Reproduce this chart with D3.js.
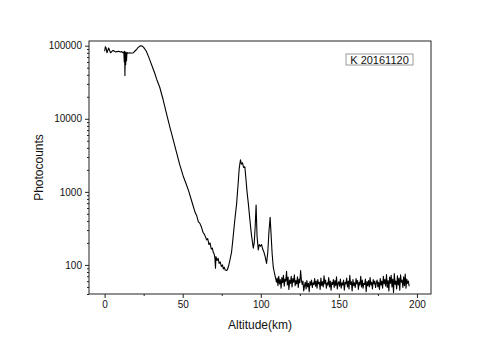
<!DOCTYPE html>
<html lang="en">
<head>
    <meta charset="UTF-8">
    <script src="https://d3js.org/d3.v7.min.js" charset="utf-8"></script>
    <title>K 20161120</title>
    <style>
        body { margin: 0; background: #fff; }
        svg { display: block; font-family: "Liberation Sans", Arial, sans-serif; }
    </style>
</head>
<body>
    <div class="chart"></div>
    <script>
        const svgWidth = 500;
        const svgHeight = 353;

        // lower atmosphere + K layer profile (altitude km, photocounts)
        const profileAlt = [
            0, 0.5, 1.0, 1.5, 2.0, 2.6, 3.2, 3.8, 4.5, 5.3, 6.0, 7.0, 8.0, 9.0, 10.0, 11.0, 11.8,
            12.3, 12.6, 12.8, 13.0, 13.2, 13.5, 13.7, 14.0, 14.3, 15.0, 16.0, 17.0, 18.3, 19.3, 20.3,
            21.5, 23.0, 24.0, 25.0, 26.7, 28.0, 28.9, 30.5, 32.1, 33.5, 35.3, 37.4, 39.5, 41.7, 44,
            46, 48, 50.3, 52.4, 54, 55.5, 56.7, 58, 59, 60, 61, 62, 63, 64, 65.3, 66, 66.8, 67.5,
            68.3, 69, 69.5, 70.2, 70.6, 71, 71.3, 72, 72.7, 73.3, 74, 74.8, 75.5, 76, 76.6, 77.2,
            78, 78.6, 79.3, 80.2, 81.3, 82.3, 83.3, 84.5, 85.5, 86.2, 87, 87.6, 88.3, 89, 89.8,
            90.5, 91.2, 92, 93, 94, 95.2, 95.8, 96.4, 97, 97.6, 98.4, 99, 99.8, 100.5, 101.2, 102,
            102.8, 103.7, 104.5, 105.2, 106, 106.6, 107.3, 108, 108.6, 109.2, 109.8
        ];
        const profileCounts = [
            84000, 97000, 92000, 80000, 86000, 93000, 86000, 80000, 83000, 86000, 85000, 82000, 83000, 84000, 82000, 83000, 80000,
            82000, 60000, 84000, 39000, 82000, 55000, 80000, 62000, 81000, 79000, 80000, 79000, 80000, 84000, 88000,
            95000, 100000, 99000, 95000, 84000, 72000, 64000, 52000, 42000, 34000, 27000, 18500, 12000, 7800, 5100,
            3500, 2400, 1650, 1250, 1000, 780, 640, 520, 470, 390, 370, 330, 280, 260, 220, 230, 190, 200,
            165, 170, 150, 140, 125, 90, 130, 115, 123, 105, 110, 95, 100, 88, 93, 85,
            84, 86, 95, 115, 150, 242, 400, 680, 1300, 2100, 2750, 2400, 2500, 2150, 2200,
            1500, 1000, 700, 420, 260, 170, 200, 330, 660, 250, 160, 190, 180, 190, 165, 150,
            130, 105, 150, 280, 450, 260, 140, 93, 80, 70, 62
        ];

        // background noise above 110 km, one value per 0.5 km bin
        const floorStartKm = 110;
        const floorBinKm = 0.5;
        const floorCounts = [
            58, 66, 52, 70, 55, 63, 48, 67, 57, 72, 51, 64, 60, 82, 53, 68, 46, 62, 56, 70, 50, 65, 58, 73, 52, 61, 55, 69, 49, 64, 57, 84, 62, 54, 60,
            44, 52, 58, 47, 61, 50, 56, 43, 59, 53, 62, 49, 57, 54, 65, 51, 60, 48, 63, 55, 58, 46, 66, 52, 59, 50, 71, 55, 62, 48, 57, 53, 67, 50, 60, 45, 58, 54, 63, 49, 61, 52, 69, 47, 56,
            59, 51, 64, 48, 57, 53, 62, 45, 58, 55, 66, 50, 60, 47, 72, 54, 59, 44, 63, 52, 57, 49, 65, 55, 61, 46, 58, 53, 70, 50, 62, 48, 56, 54, 64, 43, 59, 52, 61, 50, 67, 53, 58, 47, 63, 55, 60, 49, 57,
            62, 50, 58, 46, 65, 53, 60, 48, 70, 55, 63, 51, 74, 49, 61, 44, 68, 56, 72, 50, 64, 42, 76, 54, 60, 47, 71, 53, 66, 45, 73, 58, 62, 49, 69, 52, 75, 48, 64, 56, 60, 51
        ];

        const xTicks = [0, 50, 100, 150, 200];
        const xMinorTicks = [25, 75, 125, 175];
        const yTicks = [100, 1000, 10000, 100000];
        const legendText = "K 20161120";

        const data = profileAlt.map((a, i) => [a, profileCounts[i]])
            .concat(floorCounts.map((c, i) => [floorStartKm + i * floorBinKm, c]));

        const plot = { left: 89, right: 431, top: 41, bottom: 294 };

        const svg = d3.select(".chart").append("svg")
            .attr("width", svgWidth)
            .attr("height", svgHeight);

        const x = d3.scaleLinear().domain([-10, 209]).range([plot.left, plot.right]);
        const y = d3.scaleLog().domain([40, 116000]).range([plot.bottom, plot.top]);

        // clip so nothing spills over the frame
        svg.append("clipPath").attr("id", "clip")
            .append("rect")
            .attr("x", plot.left).attr("y", plot.top)
            .attr("width", plot.right - plot.left).attr("height", plot.bottom - plot.top);

        const line = d3.line().x(d => x(d[0])).y(d => y(d[1]));

        svg.append("path")
            .datum(data)
            .attr("clip-path", "url(#clip)")
            .attr("fill", "none")
            .attr("stroke", "#000")
            .attr("stroke-width", 1.1)
            .attr("stroke-linejoin", "round")
            .attr("d", line);

        // frame
        svg.append("rect")
            .attr("x", plot.left).attr("y", plot.top)
            .attr("width", plot.right - plot.left).attr("height", plot.bottom - plot.top)
            .attr("fill", "none")
            .attr("stroke", "#222")
            .attr("stroke-width", 1);

        // x axis
        svg.append("g")
            .attr("transform", `translate(0,${plot.bottom})`)
            .call(d3.axisBottom(x).tickValues(xTicks).tickSize(4).tickPadding(3).tickFormat(d3.format("d")));
        svg.append("g")
            .attr("transform", `translate(0,${plot.bottom})`)
            .call(d3.axisBottom(x).tickValues(xMinorTicks).tickSize(2).tickFormat(""));

        // y axis
        const yMinor = y.ticks().filter(v => !yTicks.includes(v));
        svg.append("g")
            .attr("transform", `translate(${plot.left},0)`)
            .call(d3.axisLeft(y).tickValues(yTicks).tickSize(4).tickPadding(3).tickFormat(d3.format("d")));
        svg.append("g")
            .attr("transform", `translate(${plot.left},0)`)
            .call(d3.axisLeft(y).tickValues(yMinor).tickSize(2).tickFormat(""));

        svg.selectAll(".domain").remove();
        svg.selectAll(".tick line").attr("stroke", "#222");
        svg.selectAll(".tick text")
            .attr("font-size", 10)
            .attr("font-family", "Liberation Sans, Arial, sans-serif")
            .attr("fill", "#111");

        // axis titles
        svg.append("text")
            .attr("x", (plot.left + plot.right) / 2)
            .attr("y", 329)
            .attr("text-anchor", "middle")
            .attr("font-size", 12)
            .attr("fill", "#111")
            .text("Altitude(km)");

        svg.append("text")
            .attr("transform", `translate(43,${(plot.top + plot.bottom) / 2}) rotate(-90)`)
            .attr("text-anchor", "middle")
            .attr("font-size", 12)
            .attr("fill", "#111")
            .text("Photocounts");

        // legend box
        const lg = svg.append("g").attr("transform", "translate(346,54)");
        lg.append("rect")
            .attr("width", 67).attr("height", 11)
            .attr("fill", "#fff")
            .attr("stroke", "#999")
            .attr("stroke-width", 1);
        lg.append("text")
            .attr("x", 33.5).attr("y", 9.5)
            .attr("text-anchor", "middle")
            .attr("font-size", 11)
            .attr("fill", "#111")
            .text(legendText);
    </script>
</body>
</html>
